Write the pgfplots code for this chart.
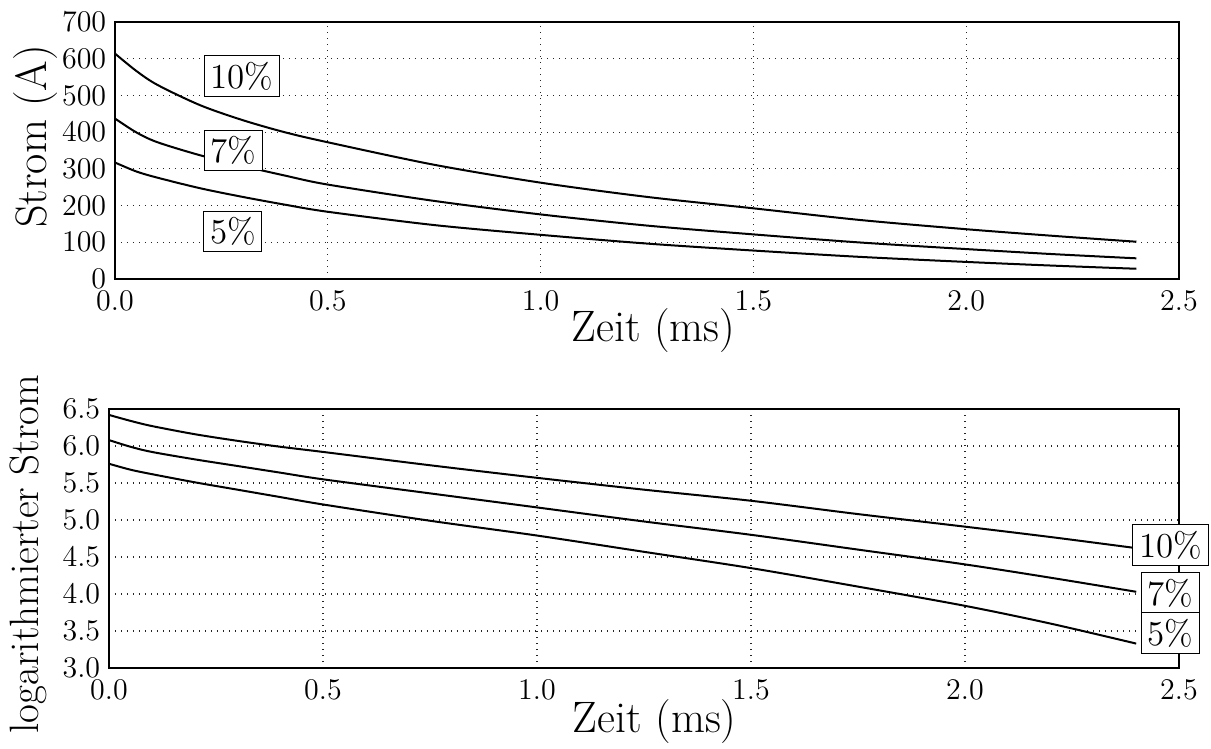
\documentclass[border=0pt]{standalone}
\usepackage{pgfplots}
\pgfplotsset{compat=1.18}

% values; upper panel = exp(lower)
\begin{document}
\begin{tikzpicture}
\useasboundingbox (-46pt,-188pt) rectangle (438.4pt,111.6pt);
\pgfplotsset{
  every axis/.append style={
    scale only axis,
    xmin=0, xmax=2.5,
    xtick={0,0.5,...,2.5},
    grid=major,
    major grid style={dotted, black!85, line width=0.5pt},
    major tick length=0pt,
    tick label style={font=\fontsize{12.8}{15}\selectfont},
    label style={font=\fontsize{17.6}{20}\selectfont},
    xticklabel style={yshift=-1.5pt, /pgf/number format/.cd, fixed, fixed zerofill, precision=1},
    axis line style={line width=0.6pt},
    xlabel={Zeit (ms)},
    clip=false,
  },
  curve/.style={black, line width=0.8pt, no marks, smooth},
}
\tikzset{
  lab/.style={draw=black, fill=white, inner sep=2.5pt, line width=0.4pt,
    font=\fontsize{14}{16}\selectfont},
}

\begin{axis}[
    name=top,
    at={(0,0)}, anchor=south west,
    width=425.6pt, height=102.8pt,
    ymin=0, ymax=700,
    ytick={0,100,...,700},
    ylabel={Strom (A)},
    xlabel style={at={(axis description cs:0.506,-0.2)}, anchor=center},
    ylabel style={at={(axis description cs:-0.075,0.555)}, anchor=center},
]
\addplot[curve] coordinates {
  (0.00,614.0) (0.05,566.8) (0.10,528.5) (0.20,473.4) (0.30,432.7)
  (0.40,399.4) (0.50,372.4) (0.75,311.1) (1.00,262.4) (1.25,223.6)
  (1.50,192.5) (1.75,160.8) (2.00,135.6) (2.20,117.9) (2.40,101.5)
};
\addplot[curve] coordinates {
  (0.00,437.0) (0.05,399.4) (0.10,372.4) (0.20,337.0) (0.30,308.0)
  (0.40,281.5) (0.50,257.2) (0.75,212.7) (1.00,175.9) (1.25,145.5)
  (1.50,121.5) (1.75,99.5) (2.00,81.5) (2.20,68.0) (2.40,56.3)
};
\addplot[curve] coordinates {
  (0.00,317.3) (0.05,292.9) (0.10,275.9) (0.20,247.2) (0.30,223.6)
  (0.40,202.3) (0.50,183.1) (0.75,146.9) (1.00,120.3) (1.25,96.5)
  (1.50,77.5) (1.75,60.3) (2.00,46.5) (2.20,36.6) (2.40,27.9)
};
\node[lab] at (axis cs:0.298,552) {10\%};
\node[lab] at (axis cs:0.278,350) {7\%};
\node[lab] at (axis cs:0.277,129) {5\%};
\end{axis}

\begin{axis}[
    at={(-2.4pt,-155.6pt)}, anchor=south west,
    width=428pt, height=103.6pt,
    ymin=3, ymax=6.5,
    ytick={3,3.5,...,6.5},
    yticklabel style={/pgf/number format/.cd, fixed, fixed zerofill, precision=1},
    ylabel={logarithmierter Strom},
    xlabel style={at={(axis description cs:0.51,-0.208)}, anchor=center},
    ylabel style={at={(axis description cs:-0.0757,0.44)}, anchor=center,
      font=\fontsize{16.4}{19}\selectfont},
]
\addplot[curve] coordinates {
  (0.00,6.42) (0.05,6.34) (0.10,6.27) (0.20,6.16) (0.30,6.07)
  (0.40,5.99) (0.50,5.92) (0.75,5.74) (1.00,5.57) (1.25,5.41)
  (1.50,5.26) (1.75,5.08) (2.00,4.91) (2.20,4.77) (2.40,4.62)
};
\addplot[curve] coordinates {
  (0.00,6.08) (0.05,5.99) (0.10,5.92) (0.20,5.82) (0.30,5.73)
  (0.40,5.64) (0.50,5.55) (0.75,5.36) (1.00,5.17) (1.25,4.98)
  (1.50,4.80) (1.75,4.60) (2.00,4.40) (2.20,4.22) (2.40,4.03)
};
\addplot[curve] coordinates {
  (0.00,5.76) (0.05,5.68) (0.10,5.62) (0.20,5.51) (0.30,5.41)
  (0.40,5.31) (0.50,5.21) (0.75,4.99) (1.00,4.79) (1.25,4.57)
  (1.50,4.35) (1.75,4.10) (2.00,3.84) (2.20,3.60) (2.40,3.33)
};
\node[lab] at (axis cs:2.48,4.66) {10\%};
\node[lab] at (axis cs:2.48,4.01) {7\%};
\node[lab] at (axis cs:2.48,3.47) {5\%};
\end{axis}
\end{tikzpicture}
\end{document}
